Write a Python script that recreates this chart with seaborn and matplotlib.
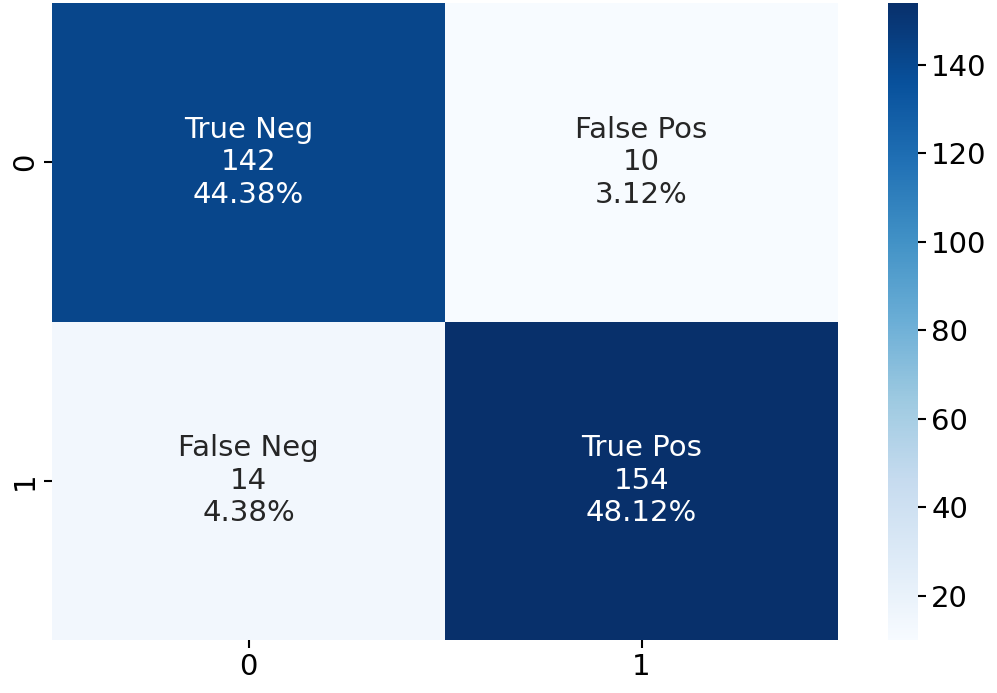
import numpy as np
import seaborn as sns
from matplotlib import pyplot as plt

# confusion matrix values
cf_matrix = np.array([[142, 10],
                      [14, 154]])
group_names = ["True Neg", "False Pos", "False Neg", "True Pos"]
group_counts = ["142", "10", "14", "154"]
group_percentages = ["44.38%", "3.12%", "4.38%", "48.12%"]
tick_labels = ["0", "1"]

labels = [f"{n}\n{c}\n{p}" for n, c, p in zip(group_names, group_counts, group_percentages)]
labels = np.asarray(labels).reshape(2, 2)

W, H = 997, 693
fig = plt.figure(figsize=(W / 100, H / 100), dpi=100)
ax = fig.add_axes([52 / W, (H - 640) / H, 786 / W, 637 / H])
cax = fig.add_axes([888 / W, (H - 640) / H, 30 / W, 637 / H])

sns.heatmap(cf_matrix, annot=labels, fmt="", cmap="Blues", vmin=10, vmax=154,
            ax=ax, cbar_ax=cax, annot_kws={"fontsize": 21},
            xticklabels=tick_labels, yticklabels=tick_labels)

ax.tick_params(axis="both", labelsize=21, length=6, width=1.5)
ax.set_yticklabels(tick_labels, rotation=90, va="center")
cax.tick_params(labelsize=21, length=6, width=1.5)
cax.set_yticks([20, 40, 60, 80, 100, 120, 140])

fig.savefig("out.png", dpi=100)
